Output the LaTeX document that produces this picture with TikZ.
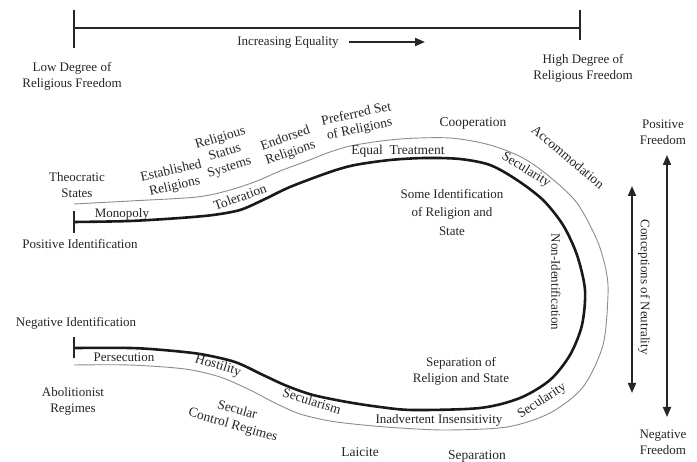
\documentclass[tikz,border=0pt]{standalone}
\usepackage{fontspec}
\setmainfont{Liberation Serif}
\usetikzlibrary{arrows.meta}
\begin{document}
\begin{tikzpicture}[x=1pt,y=-1pt,
  lbl/.style={inner sep=0pt, align=center, font=\fontsize{13}{16}\selectfont, text=black!85},
  clbl/.style={inner sep=0pt, align=center, font=\fontsize{13.5}{15.5}\selectfont, text=black!85},
  axisline/.style={line width=2pt, black!85},
  thickcurve/.style={line width=2.6pt, black!90},
  thincurve/.style={line width=0.9pt, black!45},
  tip/.style={line width=1.8pt, black!85},
  dblarrow/.style={line width=1.8pt, black!85, {Triangle[length=10pt,width=8pt]}-{Triangle[length=10pt,width=8pt]}},
]
\useasboundingbox (0,0) rectangle (697,462);
\fill[white] (0,0) rectangle (697,462);

% top scale
\coordinate (tl) at (74,28);
\coordinate (tr) at (580,28);
\draw[axisline] (tl) -- (tr);
\draw[axisline] (74,10) -- (74,48);
\draw[axisline] (580,10) -- (580,40);
\node[lbl] (ie) at (288,42) {Increasing Equality};
\coordinate (ieend) at (425,42);
\draw[line width=2pt, black!85, -{Triangle[length=10pt,width=8pt]}] ([xshift=10pt]ie.east) -- (ieend);
\node[lbl] (low) at (72,76) {Low Degree of\\Religious Freedom};
\node[lbl] (high) at (583,68) {High Degree of\\Religious Freedom};

% curves
\draw[thincurve] plot[smooth, tension=0.5] coordinates {
 (74,204) (130,201) (197,197) (230,190) (257,181) (280,171) (307,161) (330,152)
 (355,145) (400,139) (450,138) (490,145) (523,158) (550,177) (577,203) (597,240)
 (606,270) (608,295) (603,345) (583,387) (550,413) (507,427) (447,430) (400,428)
 (363,425) (330,421) (300,414) (275,403) (250,390) (220,377) (185,369) (130,365) (74,365)};
\draw[thickcurve] plot[smooth, tension=0.5] coordinates {
 (74,222) (130,221) (180,218) (213,215) (240,210) (263,200) (290,187) (330,172)
 (355,165) (390,160) (425,158) (460,159) (490,165) (517,180) (543,200) (563,225)
 (577,255) (585,290) (582,325) (570,355) (550,380) (520,398) (480,408) (413,410)
 (380,407) (347,402) (313,395) (287,386) (263,375) (235,362) (200,354) (163,350) (130,348) (74,348)};
\draw[tip] (74,211) -- (74,233);
\draw[tip] (74,337) -- (74,358);

% upper labels
\node[lbl] (theo) at (77,185) {Theocratic\\States};
\node[lbl] (mono) at (122,214) {Monopoly};
\node[lbl] (posid) at (80,244) {Positive Identification};
\node[clbl, rotate=13] (est) at (173,179) {Established\\Religions};
\node[clbl, rotate=17] (rss) at (225,153) {Religious\\Status\\Systems};
\node[clbl, rotate=19] (endo) at (288,146) {Endorsed\\Religions};
\node[clbl, rotate=12] (pref) at (358,122) {Preferred Set\\of Religions};
\node[clbl, rotate=20] (tol) at (240,197) {Toleration};
\node[clbl] (eqt) at (398,151) {Equal\ \ Treatment};
\node[clbl] (coop) at (473,123) {Cooperation};
\node[clbl, rotate=-40] (acc) at (568,157) {Accommodation};
\node[clbl, rotate=-32] (sec1) at (526,170) {Secularity};
\node[lbl, font=\fontsize{13}{18.5}\selectfont] (some) at (452,212) {Some Identification\\of Religion and\\State};
\node[lbl, rotate=-90] (nonid) at (556,282) {Non-Identification};

% lower labels
\node[lbl] (negid) at (76,323) {Negative Identification};
\node[lbl] (pers) at (124,357) {Persecution};
\node[lbl] (abol) at (73,401) {Abolitionist\\Regimes};
\node[clbl, rotate=-17] (host) at (218,366) {Hostility};
\node[clbl, rotate=-16] (scr) at (235,418) {Secular\\Control Regimes};
\node[clbl, rotate=-17] (secm) at (312,401) {Secularism};
\node[clbl] (laic) at (360,452) {Laicite};
\node[lbl] (inad) at (439,420) {Inadvertent Insensitivity};
\node[lbl] (sep) at (461,371) {Separation of\\Religion and State};
\node[clbl, rotate=33] (sec2) at (542,401) {Secularity};
\node[clbl] (separ) at (477,456) {Separation};

% right arrows
\node[lbl] (posf) at (663,132) {Positive\\Freedom};
\node[lbl] (negf) at (663,442) {Negative\\Freedom};
\coordinate (pfa) at (667,155);
\coordinate (nfa) at (667,417);
\draw[dblarrow] (pfa) -- (nfa);
\coordinate (cna) at (632,186);
\coordinate (cnb) at (632,393);
\draw[dblarrow] (cna) -- (cnb);
\node[lbl, rotate=-90] (conc) at (644,287) {Conceptions of Neutrality};
\end{tikzpicture}
\end{document}
